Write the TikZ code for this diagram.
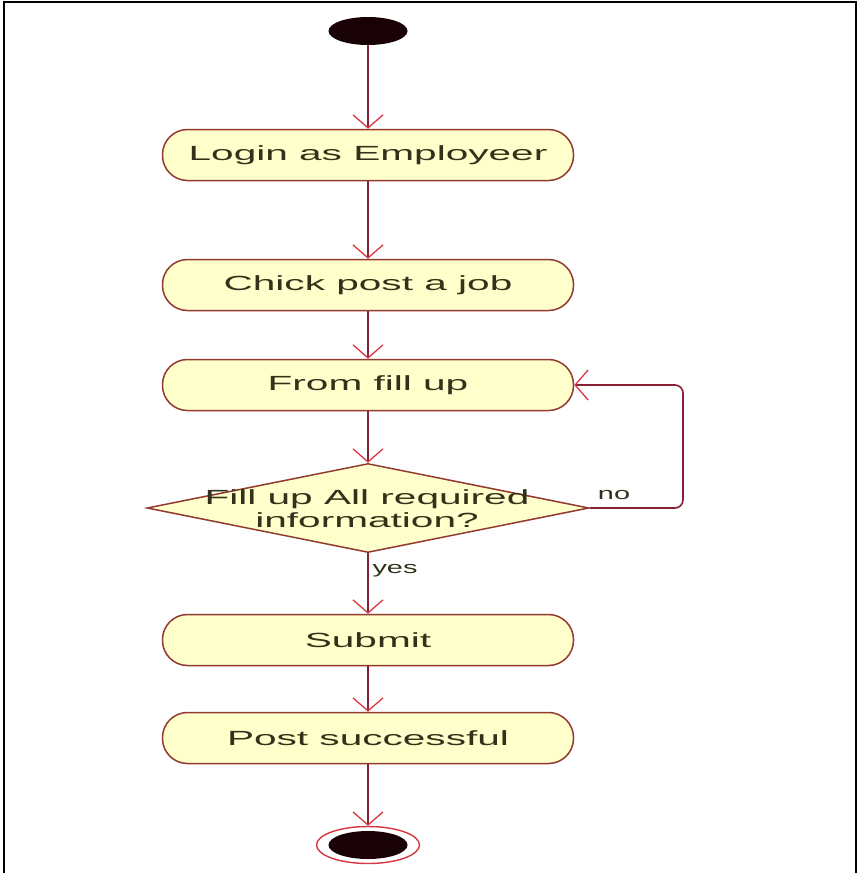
\documentclass[tikz,border=0pt]{standalone}
\usepackage{fontspec}
\usepackage{graphicx}
\setmainfont{Liberation Sans}
\usetikzlibrary{shapes.geometric,arrows.meta}

\definecolor{actfill}{RGB}{255,255,204}
\definecolor{actedge}{RGB}{145,58,48}
\definecolor{flow}{RGB}{135,32,52}
\definecolor{tipred}{RGB}{215,55,65}
\definecolor{ink}{RGB}{50,50,26}
\definecolor{dotblack}{RGB}{25,2,6}

% wide sans lettering used by the activity labels
\newcommand\widetxt[1]{\scalebox{1.98}[1]{#1}}
\newcommand\guardtxt[1]{\scalebox{1.7}[1]{#1}}

\begin{document}
\begin{tikzpicture}[x=1pt,y=-1pt,
  activity/.style={draw=actedge, fill=actfill, line width=1.5pt,
    rounded corners=25pt, minimum width=411pt, minimum height=51pt,
    inner sep=0pt, text=ink, font=\fontsize{20.5}{23}\selectfont},
  decision/.style={diamond, draw=actedge, fill=actfill, line width=1.5pt,
    minimum width=442pt, minimum height=89pt, inner sep=0pt},
  dectext/.style={text=ink, align=center, font=\fontsize{20.5}{23}\selectfont},
  guard/.style={text=ink, font=\fontsize{17}{20}\selectfont, inner sep=0pt},
  initial/.style={ellipse, fill=dotblack, minimum width=79pt,
    minimum height=28pt, inner sep=0pt},
  finalring/.style={ellipse, draw=tipred, line width=1.4pt, fill=white,
    minimum width=103pt, minimum height=37pt, inner sep=0pt},
  flowline/.style={draw=flow, line width=1.6pt,
    -{Straight Barb[length=13pt,width=30pt,color=tipred,line width=1.3pt]}},
  frame/.style={line width=2pt, draw=black}
]
\useasboundingbox (0,0) rectangle (857,873);

% page frame (open at the bottom)
\draw[frame] (4,873) -- (4,2) -- (856,2) -- (856,873);

% nodes
\node[initial] (start) at (368,31) {};
\node[activity] (login) at (368,155) {\widetxt{Login as Employeer}};
\node[activity] (chick) at (368,285) {\widetxt{Chick post a job}};
\node[activity] (form) at (368,385) {\widetxt{From fill up}};
\node[decision] (dec) at (368,508) {};
\node[dectext] (dectxt) at (367,509) {\widetxt{Fill up All required}\\\widetxt{information?}};
\node[activity] (submit) at (368,640) {\widetxt{Submit}};
\node[activity] (post) at (368,738) {\widetxt{Post successful}};
\node[finalring] (final) at (368,845) {};
\node[initial] (finalcore) at (final) {};

\coordinate (loopx) at (683,0);

% guards
\node[guard] (nolbl) at (614,495) {\guardtxt{no}};
\node[guard] (yeslbl) at (395,571) {\guardtxt{yes}};

% control flow
\draw[flowline] (start.south) -- (login.north);
\draw[flowline] (login.south) -- (chick.north);
\draw[flowline] (chick.south) -- (form.north);
\draw[flowline] (form.south) -- (dec.north);
\draw[flowline] (dec.south) -- (submit.north);
\draw[flowline] (submit.south) -- (post.north);
\draw[flowline] (post.south) -- (final.north);
\draw[flowline, rounded corners=8pt] (dec.east) -- (dec.east -| loopx) |- (form.east);
\end{tikzpicture}
\end{document}
